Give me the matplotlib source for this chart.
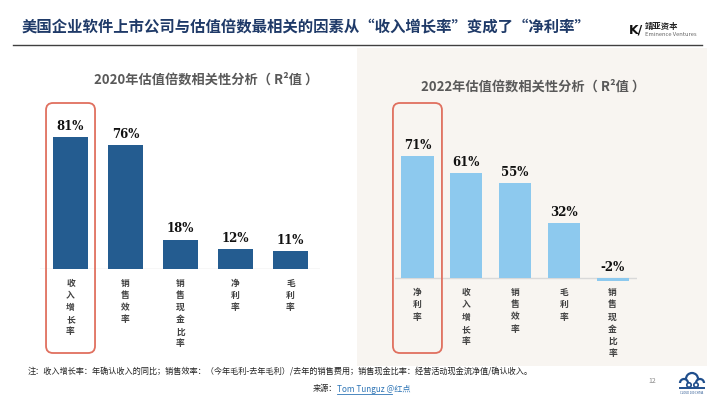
import matplotlib
matplotlib.use("Agg")
import matplotlib.pyplot as plt
from matplotlib.patches import FancyBboxPatch, Rectangle, Circle, Arc
from matplotlib.transforms import IdentityTransform

plt.rcParams['font.family'] = ['Noto Sans CJK SC', 'DejaVu Sans']

# data
cats_2020 = ["收入增长率", "销售效率", "销售现金比率", "净利率", "毛利率"]
vals_2020 = [81, 76, 18, 12, 11]
cats_2022 = ["净利率", "收入增长率", "销售效率", "毛利率", "销售现金比率"]
vals_2022 = [71, 61, 55, 32, -2]

W, H = 710, 399
fig = plt.figure(figsize=(W / 100, H / 100), dpi=100)
fig.patch.set_facecolor("white")


def px(x0, y0, x1, y1):
    # pixel box (top-left origin) -> figure fraction rect
    return [x0 / W, 1 - y1 / H, (x1 - x0) / W, (y1 - y0) / H]


# beige panel on the right
fig.add_artist(Rectangle((357 / W, 1 - 366 / H), (707 - 357) / W, (366 - 48) / H,
                         transform=fig.transFigure, facecolor="#F8F5F1",
                         edgecolor="none", zorder=-5))

# header
fig.text(22 / W, 1 - 27 / H, "美国企业软件上市公司与估值倍数最相关的因素从“收入增长率”变成了“净利率”",
         fontsize=11.1, fontweight="bold", color="#1F3A68", va="center", ha="left")
fig.add_artist(plt.Line2D([13 / W, 702 / W], [1 - 45 / H, 1 - 45 / H],
                          transform=fig.transFigure, color="#404040", lw=1.0))
fig.text(645 / W, 1 - 26 / H, "靖亚资本", fontsize=6, fontweight="bold", color="#222222",
         va="center", ha="left")
fig.text(645 / W, 1 - 35 / H, "Eminence Ventures", fontsize=4.2, color="#666666",
         va="center", ha="left")
fig.text(629 / W, 1 - 30 / H, "K/", fontsize=9, fontweight="bold", color="#111111",
         va="center", ha="left", family="DejaVu Sans")


def draw_panel(rect, cats, vals, color, title, ylim, xlim, title_xy, hl, width, pad):
    ax = fig.add_axes(rect)
    ax.set_facecolor("none")
    xs = list(range(len(cats)))
    ax.bar(xs, vals, width=width, color=color, zorder=2)
    ax.set_xlim(*xlim)
    ax.set_ylim(*ylim)
    for s in ["top", "right", "left", "bottom"]:
        ax.spines[s].set_visible(False)
    ax.axhline(0, color="#D9D9D9", lw=1.0, zorder=1)
    ax.set_yticks([])
    ax.set_xticks(xs)
    ax.set_xticklabels(["\n".join(c) for c in cats], fontsize=6.3, color="#404040",
                       fontweight="bold", linespacing=1.45, va="top")
    ax.tick_params(axis="x", length=0, pad=pad)
    for x, v in zip(xs, vals):
        ax.annotate(f"{v}%", (x, max(v, 0)), xytext=(0, 3), textcoords="offset points",
                    ha="center", va="bottom", fontsize=8.5, fontweight="bold",
                    color="#111111", family="DejaVu Serif")
    fig.text(title_xy[0] / W, 1 - title_xy[1] / H, title, fontsize=9.5, fontweight="bold",
             color="#595959", ha="center", va="center")
    # highlight box around the leading factor
    cx, _ = ax.transData.transform((hl, 0))
    fig.add_artist(FancyBboxPatch((cx - 24.5, H - 353), 49, 250,
                                  boxstyle="round,pad=0,rounding_size=7",
                                  transform=IdentityTransform(), facecolor="none",
                                  edgecolor="#E0705F", lw=1.3, zorder=5))
    return ax


# left axes: baseline at y=269px, 1.63 px per %
ax1 = draw_panel(px(40, 269 - 163, 320, 269), cats_2020, vals_2020, "#245C90",
                 "2020年估值倍数相关性分析（ R²值 ）", (0, 100), (-0.555, 4.536),
                 (206, 80), 0, 0.64, 7)
# right axes: baseline at y=278px, 1.72 px per %
ax2 = draw_panel(px(395, 278 - 172, 637, 278 + 8.6), cats_2022, vals_2022, "#8DC9EE",
                 "2022年估值倍数相关性分析（ R²值 ）", (-5, 100), (-0.46, 4.5),
                 (533, 87), 0, 0.66, 1.2)

# footer
fig.text(28 / W, 1 - 371 / H,
         "注：收入增长率：年确认收入的同比；销售效率：（今年毛利-去年毛利）/去年的销售费用；销售现金比率：经营活动现金流净值/确认收入。",
         fontsize=5.9, color="#222222", ha="left", va="center")
fig.text(337 / W, 1 - 389 / H, "来源：", fontsize=5.9, color="#222222", ha="right", va="center")
fig.text(337 / W, 1 - 389 / H, "Tom Tunguz @红点", fontsize=5.9, color="#2E75B6",
         ha="left", va="center")
fig.add_artist(plt.Line2D([337 / W, 392 / W], [1 - 393.5 / H, 1 - 393.5 / H],
                          transform=fig.transFigure, color="#2E75B6", lw=0.6))
fig.text(652 / W, 1 - 381 / H, "12", fontsize=5, color="#888888", ha="center", va="center")

# cloud logo, bottom right
logo = "#1F4E8C"
for cx, cy, r in [(684, 383, 4), (692, 379, 6), (700, 383, 4)]:
    fig.add_artist(Arc((cx, H - cy), 2 * r, 2 * r, theta1=0, theta2=180,
                       transform=IdentityTransform(), color=logo, lw=1.6))
for cx in (689, 696):
    fig.add_artist(Circle((cx, H - 385), 2.2, transform=IdentityTransform(),
                          facecolor="none", edgecolor=logo, lw=1.2))
fig.add_artist(plt.Line2D([680, 704], [H - 388, H - 388], transform=IdentityTransform(),
                          color=logo, lw=1.4))
fig.text(692 / W, 1 - 393 / H, "CLOUD 100 CHINA", fontsize=2, color=logo,
         ha="center", va="center")

fig.savefig("out.png", dpi=100)
